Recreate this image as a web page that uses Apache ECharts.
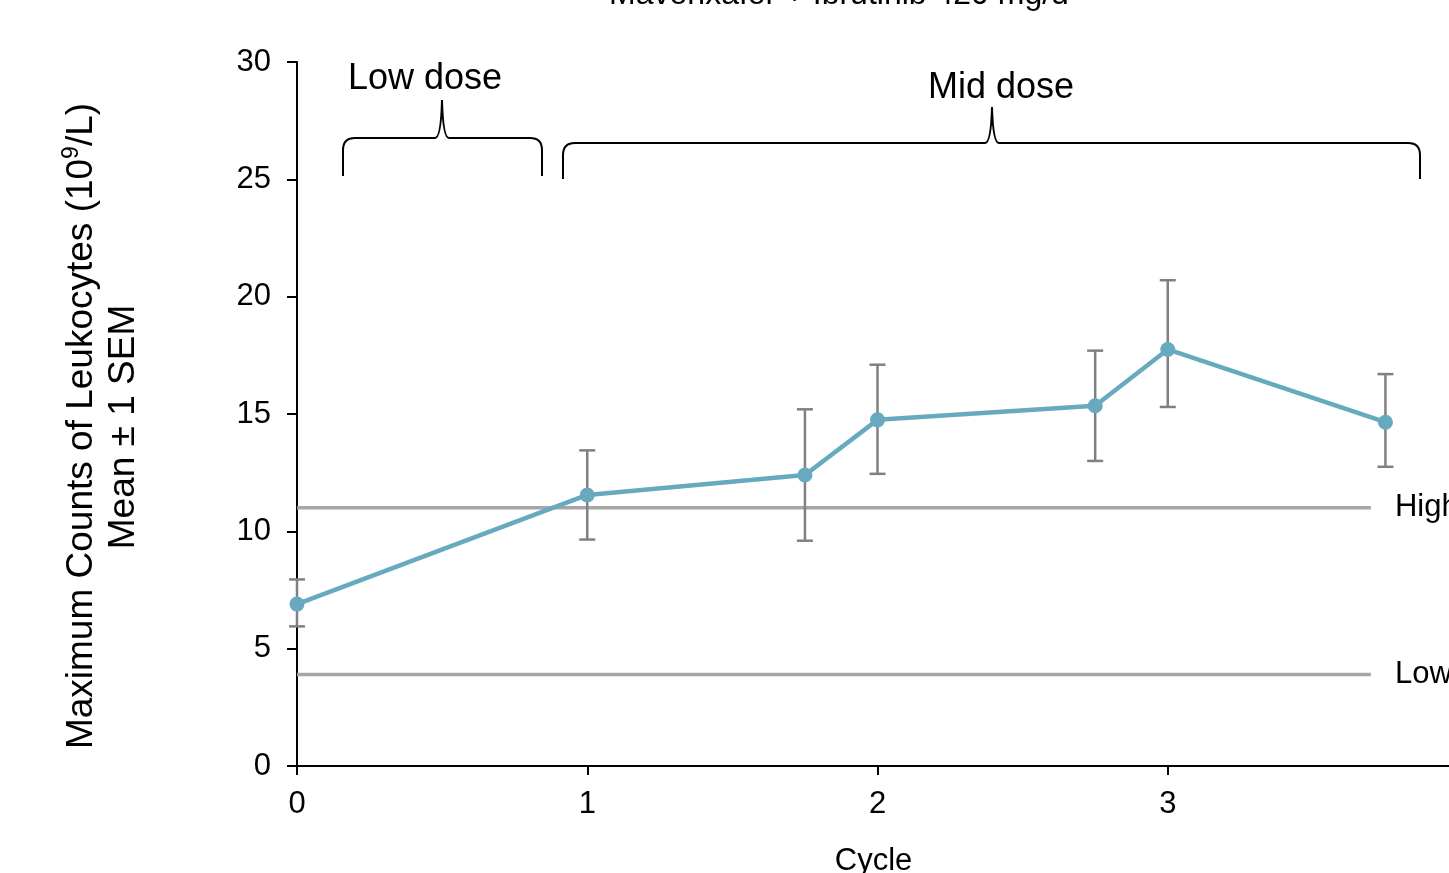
<!DOCTYPE html>
<html>
<head>
<meta charset="utf-8">
<script src="https://cdn.jsdelivr.net/npm/echarts@6/dist/echarts.min.js"></script>
<style>
html,body{margin:0;padding:0;background:#fff;}
#chart{width:1449px;height:873px;}
</style>
</head>
<body>
<div id="chart"></div>
<script>
// ---- data ----
const cycle = [0, 1, 1.75, 2, 2.75, 3, 3.75];
const meanLeuko = [6.9, 11.55, 12.4, 14.75, 15.35, 17.75, 14.65];
const semLow = [5.95, 9.65, 9.6, 12.45, 13.0, 15.3, 12.75];
const semHigh = [7.95, 13.45, 15.2, 17.1, 17.7, 20.7, 16.7];
const refNames = ['High', 'Low'];
const refValues = [11, 3.9];
const refXRange = [0, 3.7];
const xTicks = [0, 1, 2, 3];
const yTicks = [0, 5, 10, 15, 20, 25, 30];
const titleText = 'Mavorixafor + Ibrutinib 420 mg/d';
const yName1 = '{a|Maximum Counts of Leukocytes (10}{s|9}{a|/L)}';
const yName2 = 'Mean \u00b1 1 SEM';
const xName = 'Cycle';
const doseLabels = ['Low dose', 'Mid dose'];

const FONT = '"Liberation Sans", Arial, Helvetica, sans-serif';
const chart = echarts.init(document.getElementById('chart'));

// curly brace annotation built from line + quadratic curve pieces
function brace(xl, xr, xm, yBottom, yBar, yTip, r) {
  const st = { stroke: '#000', lineWidth: 2, fill: null };
  return [
    { type: 'line', shape: { x1: xl, y1: yBottom, x2: xl, y2: yBar + r }, style: st },
    { type: 'bezierCurve', shape: { x1: xl, y1: yBar + r, cpx1: xl, cpy1: yBar, x2: xl + r, y2: yBar }, style: st },
    { type: 'line', shape: { x1: xl + r, y1: yBar, x2: xm - 7, y2: yBar }, style: st },
    { type: 'bezierCurve', shape: { x1: xm - 7, y1: yBar, cpx1: xm - 1, cpy1: yBar, x2: xm, y2: yTip }, style: st },
    { type: 'bezierCurve', shape: { x1: xm, y1: yTip, cpx1: xm + 1, cpy1: yBar, x2: xm + 7, y2: yBar }, style: st },
    { type: 'line', shape: { x1: xm + 7, y1: yBar, x2: xr - r, y2: yBar }, style: st },
    { type: 'bezierCurve', shape: { x1: xr - r, y1: yBar, cpx1: xr, cpy1: yBar, x2: xr, y2: yBar + r }, style: st },
    { type: 'line', shape: { x1: xr, y1: yBar + r, x2: xr, y2: yBottom }, style: st }
  ];
}

const refSeries = refNames.map((n, i) => ({
  type: 'line',
  name: n,
  data: refXRange.map(x => [x, refValues[i]]),
  symbol: 'none',
  silent: true,
  z: 1,
  lineStyle: { color: '#a6a6a6', width: 3.5 },
  endLabel: {
    show: true, formatter: n, distance: 24,
    color: '#000', fontSize: 31, fontFamily: FONT
  },
  animation: false
}));

const option = {
  animation: false,
  grid: { left: 297, right: -9, top: 62, bottom: 107, containLabel: false, outerBoundsMode: 'none' },
  xAxis: {
    type: 'value', min: 0, max: 4, interval: 1,
    name: xName, nameLocation: 'middle', nameGap: 80,
    nameTextStyle: { color: '#000', fontSize: 31, fontFamily: FONT, padding: [0, 8, 0, 0] },
    axisLine: { show: true, lineStyle: { color: '#000', width: 2 } },
    axisTick: { show: true, inside: false, length: 9, lineStyle: { color: '#000', width: 2 } },
    axisLabel: {
      color: '#000', fontSize: 31, fontFamily: FONT, margin: 23,
      formatter: v => (xTicks.indexOf(v) >= 0 ? String(v) : '')
    },
    splitLine: { show: false }
  },
  yAxis: {
    type: 'value', min: 0, max: 30, interval: 5,
    axisLine: { show: true, lineStyle: { color: '#000', width: 2 } },
    axisTick: { show: true, inside: false, length: 10, lineStyle: { color: '#000', width: 2 } },
    axisLabel: {
      color: '#000', fontSize: 31, fontFamily: FONT, margin: 26,
      formatter: v => (yTicks.indexOf(v) >= 0 ? String(v) : '')
    },
    splitLine: { show: false }
  },
  series: [
    ...refSeries,
    {
      type: 'custom',
      name: 'SEM',
      z: 2,
      silent: true,
      data: cycle.map((c, i) => [c, semLow[i], semHigh[i]]),
      renderItem: function (params, api) {
        const x = api.value(0);
        const lo = api.coord([x, api.value(1)]);
        const hi = api.coord([x, api.value(2)]);
        const hw = 8;
        const st = { stroke: '#808080', lineWidth: 2.5 };
        return {
          type: 'group',
          children: [
            { type: 'line', shape: { x1: lo[0], y1: lo[1], x2: hi[0], y2: hi[1] }, style: st },
            { type: 'line', shape: { x1: lo[0] - hw, y1: lo[1], x2: lo[0] + hw, y2: lo[1] }, style: st },
            { type: 'line', shape: { x1: hi[0] - hw, y1: hi[1], x2: hi[0] + hw, y2: hi[1] }, style: st }
          ]
        };
      }
    },
    {
      type: 'line',
      name: 'Mean',
      z: 3,
      data: cycle.map((c, i) => [c, meanLeuko[i]]),
      symbol: 'circle',
      symbolSize: 15,
      itemStyle: { color: '#67aabf' },
      lineStyle: { color: '#67aabf', width: 4.5 }
    }
  ],
  graphic: [
    {
      type: 'text', x: 839, y: -5,
      style: { text: titleText, fill: '#000', font: '32px ' + FONT, textAlign: 'center', textVerticalAlign: 'middle' }
    },
    {
      type: 'text', x: 80, y: 426, rotation: Math.PI / 2,
      style: {
        text: yName1, fill: '#000', textAlign: 'center', textVerticalAlign: 'middle',
        rich: {
          a: { fontSize: 37, fontFamily: FONT, fill: '#000', lineHeight: 40, verticalAlign: 'bottom' },
          s: { fontSize: 23, fontFamily: FONT, fill: '#000', lineHeight: 40, verticalAlign: 'top', padding: [0, 0, 14, 0] }
        }
      }
    },
    {
      type: 'text', x: 124, y: 427, rotation: Math.PI / 2,
      style: { text: yName2, fill: '#000', font: '37px ' + FONT, textAlign: 'center', textVerticalAlign: 'middle' }
    },
    {
      type: 'text', x: 425, y: 79,
      style: { text: doseLabels[0], fill: '#000', font: '36px ' + FONT, textAlign: 'center', textVerticalAlign: 'middle' }
    },
    {
      type: 'text', x: 1001, y: 88,
      style: { text: doseLabels[1], fill: '#000', font: '36px ' + FONT, textAlign: 'center', textVerticalAlign: 'middle' }
    },
    ...brace(343, 542, 442, 176, 138, 100, 12),
    ...brace(563, 1420, 992, 179, 143, 107, 12)
  ]
};
chart.setOption(option);
</script>
</body>
</html>
